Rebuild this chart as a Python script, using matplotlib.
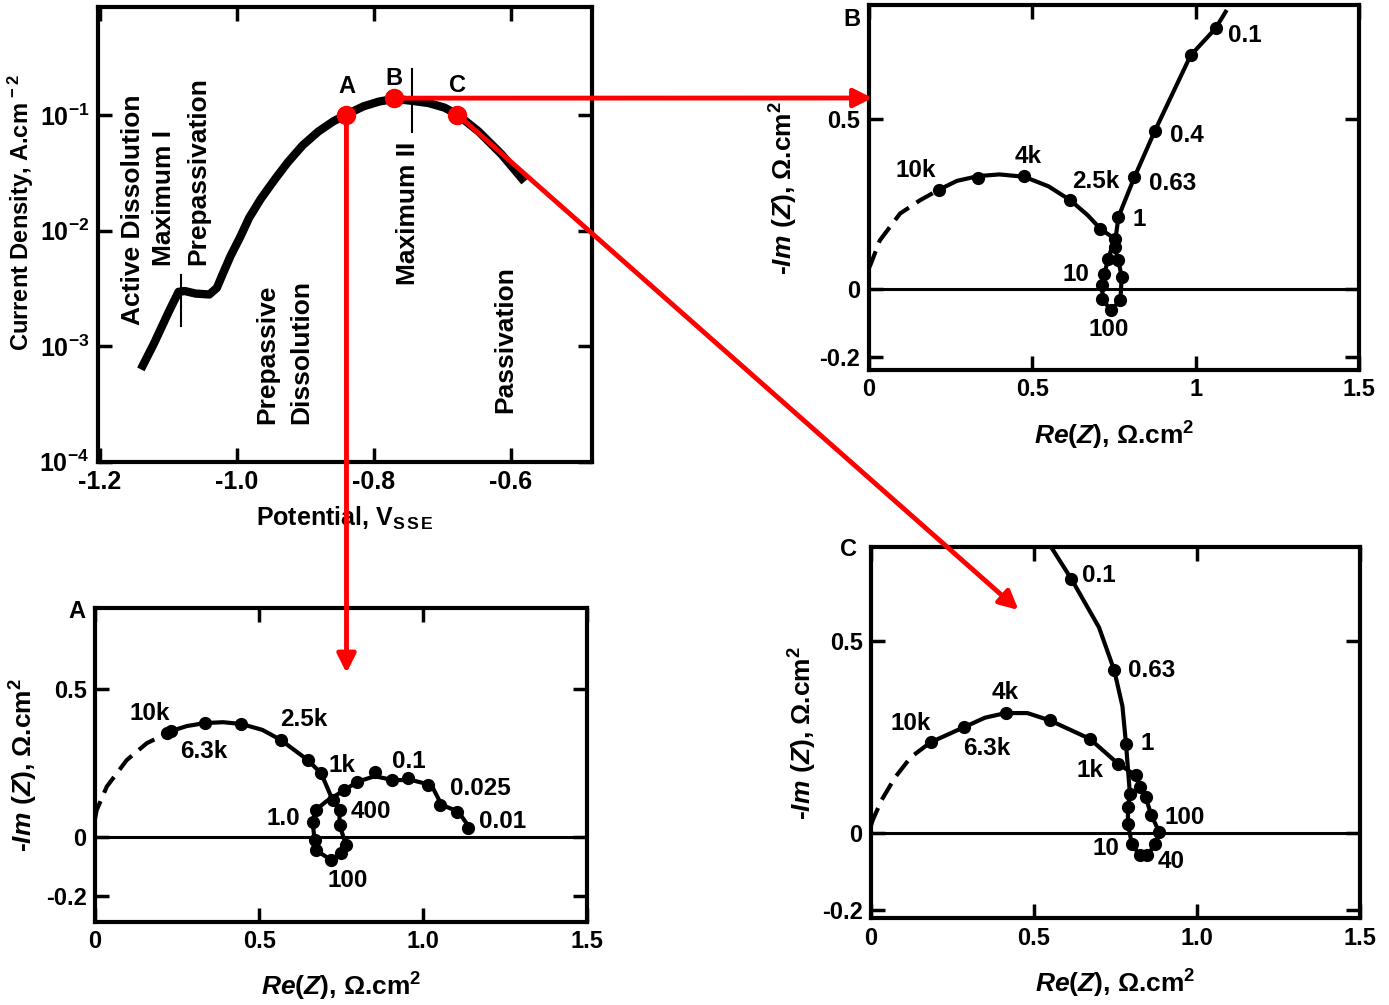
import matplotlib
matplotlib.use("Agg")
import matplotlib.pyplot as plt
from matplotlib.patches import ConnectionPatch
from matplotlib.ticker import NullLocator

W, H = 1389, 1005

# polarization curve
POTENTIAL = [-1.140, -1.121, -1.099, -1.085, -1.076, -1.060, -1.040, -1.029, -1.021, -1.009,
             -0.995, -0.982, -0.965, -0.945, -0.926, -0.904, -0.881, -0.859, -0.840, -0.815,
             -0.792, -0.770, -0.745, -0.720, -0.697, -0.678, -0.647, -0.614, -0.580]
CURRENT = [6.3e-4, 1.05e-3, 2.0e-3, 2.95e-3, 3.0e-3, 2.85e-3, 2.8e-3, 3.2e-3, 4.15e-3, 6.05e-3,
           8.8e-3, 1.29e-2, 1.88e-2, 2.75e-2, 3.87e-2, 5.46e-2, 7.2e-2, 8.83e-2, 0.101, 0.119,
           0.131, 0.138, 0.133, 0.127, 0.116, 0.101, 0.072, 0.046, 0.0265]
POINT_NAMES = ["A", "B", "C"]
POINT_POT = [-0.840, -0.770, -0.678]
POINT_CUR = [0.101, 0.140, 0.101]
MAX_I_POT = -1.081
MAX_I_CUR = [4.15e-3, 1.48e-3]
MAX_II_POT = -0.745
MAX_II_CUR = [0.248, 0.072]
POT_TICKS = [-1.2, -1.0, -0.8, -0.6]
POT_TICKLABELS = ["-1.2", "-1.0", "-0.8", "-0.6"]
CUR_TICKS = [1e-4, 1e-3, 1e-2, 1e-1]
CUR_TICKLABELS = [r"$10^{-4}$", r"$10^{-3}$", r"$10^{-2}$", r"$10^{-1}$"]
REGIONS = ["Active Dissolution", "Maximum I", "Prepassivation", "Prepassive",
           "Dissolution", "Maximum II", "Passivation"]

# impedance at point B
B_DASH_RE = [0.0, 0.007, 0.034, 0.096, 0.157, 0.215]
B_DASH_IM = [0.06, 0.075, 0.143, 0.222, 0.261, 0.292]
B_LINE_RE = [0.215, 0.27, 0.335, 0.40, 0.476, 0.55, 0.617, 0.67, 0.709, 0.752, 0.733, 0.721,
             0.715, 0.715, 0.740, 0.770, 0.774, 0.764, 0.752, 0.764, 0.813, 0.875, 0.985,
             1.061, 1.092]
B_LINE_IM = [0.292, 0.318, 0.332, 0.337, 0.330, 0.302, 0.261, 0.217, 0.177, 0.148, 0.089, 0.045,
             0.011, -0.028, -0.063, -0.033, 0.035, 0.084, 0.124, 0.212, 0.329, 0.464, 0.687,
             0.766, 0.815]
B_PT_RE = [0.215, 0.335, 0.476, 0.617, 0.709, 0.752, 0.733, 0.721, 0.715, 0.715, 0.740, 0.770,
           0.774, 0.764, 0.752, 0.764, 0.813, 0.875, 0.985, 1.061]
B_PT_IM = [0.292, 0.325, 0.332, 0.261, 0.177, 0.148, 0.089, 0.045, 0.011, -0.028, -0.063, -0.033,
           0.035, 0.084, 0.124, 0.212, 0.329, 0.464, 0.687, 0.766]
B_FREQ = ["10k", "4k", "2.5k", "0.63", "0.4", "0.1", "1", "10", "100"]

# impedance at point A
A_DASH_RE = [0.0, 0.005, 0.036, 0.097, 0.158, 0.219]
A_DASH_IM = [0.06, 0.09, 0.17, 0.26, 0.317, 0.350]
A_LINE_RE = [0.219, 0.232, 0.28, 0.334, 0.39, 0.446, 0.51, 0.566, 0.648, 0.689, 0.724, 0.745,
             0.745, 0.765, 0.750, 0.719, 0.673, 0.669, 0.663, 0.673, 0.705, 0.760, 0.799,
             0.852, 0.908, 0.964, 1.025, 1.056, 1.107, 1.143]
A_LINE_IM = [0.350, 0.358, 0.375, 0.385, 0.388, 0.382, 0.362, 0.328, 0.260, 0.215, 0.124, 0.091,
             0.040, -0.028, -0.055, -0.079, -0.045, -0.011, 0.051, 0.091, 0.120, 0.158, 0.186,
             0.205, 0.192, 0.192, 0.175, 0.108, 0.085, 0.028]
A_PT_RE = [0.219, 0.232, 0.334, 0.446, 0.566, 0.648, 0.689, 0.724, 0.745, 0.745, 0.765, 0.750,
           0.719, 0.673, 0.669, 0.663, 0.673, 0.760, 0.799, 0.852, 0.905, 0.953, 1.014, 1.050,
           1.104, 1.135]
A_PT_IM = [0.350, 0.358, 0.385, 0.382, 0.328, 0.260, 0.215, 0.124, 0.091, 0.040, -0.028, -0.055,
           -0.079, -0.045, -0.011, 0.051, 0.091, 0.158, 0.186, 0.220, 0.192, 0.198, 0.175, 0.108,
           0.085, 0.028]
A_FREQ = ["10k", "6.3k", "2.5k", "1k", "0.1", "0.025", "0.01", "400", "1.0", "100"]

# impedance at point C
C_DASH_RE = [0.0, 0.005, 0.032, 0.074, 0.122, 0.183]
C_DASH_IM = [0.02, 0.033, 0.085, 0.145, 0.197, 0.236]
C_LINE_RE = [0.183, 0.285, 0.35, 0.413, 0.48, 0.549, 0.672, 0.759, 0.813, 0.825, 0.843, 0.861,
             0.885, 0.873, 0.849, 0.825, 0.801, 0.789, 0.789, 0.795, 0.783, 0.772, 0.747,
             0.700, 0.615, 0.552]
C_LINE_IM = [0.236, 0.275, 0.300, 0.312, 0.312, 0.293, 0.245, 0.180, 0.150, 0.119, 0.094, 0.046,
             0.003, -0.028, -0.058, -0.058, -0.028, 0.024, 0.068, 0.102, 0.232, 0.330, 0.423,
             0.535, 0.661, 0.745]
C_PT_RE = [0.183, 0.285, 0.413, 0.549, 0.672, 0.759, 0.813, 0.825, 0.843, 0.861, 0.885, 0.873,
           0.849, 0.825, 0.801, 0.789, 0.789, 0.795, 0.783, 0.747, 0.615]
C_PT_IM = [0.236, 0.275, 0.312, 0.293, 0.245, 0.180, 0.150, 0.119, 0.094, 0.046, 0.003, -0.028,
           -0.058, -0.058, -0.028, 0.024, 0.068, 0.102, 0.232, 0.423, 0.661]
C_FREQ = ["0.1", "0.63", "4k", "10k", "6.3k", "1", "1k", "100", "10", "40"]

IM_TICKS = [-0.2, 0, 0.5]
IM_TICKLABELS = ["-0.2", "0", "0.5"]
RE_TICKS = [0, 0.5, 1, 1.5]

plt.rcParams["font.family"] = ["Liberation Sans", "DejaVu Sans"]
plt.rcParams["font.weight"] = "bold"
plt.rcParams["axes.labelweight"] = "bold"
plt.rcParams["mathtext.fontset"] = "custom"
plt.rcParams["mathtext.rm"] = "Liberation Sans:bold"
plt.rcParams["mathtext.bf"] = "Liberation Sans:bold"
plt.rcParams["mathtext.it"] = "Liberation Sans:italic:bold"
plt.rcParams["mathtext.default"] = "rm"
plt.rcParams["axes.unicode_minus"] = False


def px_axes(fig, left, top, right, bottom):
    return fig.add_axes([left / W, 1 - bottom / H, (right - left) / W, (bottom - top) / H])


def style_box(ax, fs):
    for s in ax.spines.values():
        s.set_linewidth(3)
    ax.tick_params(direction="in", length=10, width=2.5, top=True, right=True,
                   labelsize=fs, pad=6)


def polarization(fig):
    ax = px_axes(fig, 97.7, 7.3, 591.7, 461.7)
    ax.set_yscale("log")
    ax.plot(POTENTIAL, CURRENT, color="black", lw=6, solid_capstyle="butt",
            solid_joinstyle="round", zorder=3)
    ax.plot([MAX_I_POT, MAX_I_POT], MAX_I_CUR, color="black", lw=1.5)
    ax.plot([MAX_II_POT, MAX_II_POT], MAX_II_CUR, color="black", lw=1.5)
    ax.plot(POINT_POT, POINT_CUR, "o", color="red", ms=13, zorder=5)
    offsets = [1.75, 1.47, 1.8]
    for name, v, i, k in zip(POINT_NAMES, POINT_POT, POINT_CUR, offsets):
        ax.text(v, i * k, name, ha="center", va="center", fontsize=17)
    ax.set_xlim(-1.203, -0.482)
    ax.set_ylim(1e-4, 0.856)
    ax.set_xticks(POT_TICKS, POT_TICKLABELS)
    ax.set_yticks(CUR_TICKS, CUR_TICKLABELS)
    ax.yaxis.set_minor_locator(NullLocator())
    style_box(ax, 18)
    spots = [(0.072, 0.554), (0.134, 0.580), (0.204, 0.640), (0.343, 0.237),
             (0.413, 0.241), (0.628, 0.547), (0.826, 0.268)]
    for txt, (x, y) in zip(REGIONS, spots):
        ax.text(x, y, txt, transform=ax.transAxes, rotation=90, ha="center",
                va="center", fontsize=19)
    ax.set_xlabel(r"Potential, V$_{\mathrm{S\,S\,E}}$", fontsize=18, labelpad=8)
    ax.set_ylabel(r"Current Density, A.cm$^{\,-2}$", fontsize=17)
    ax.yaxis.set_label_coords(-0.125, 0.549)
    return ax


def nyquist(ax, dash, line, pts, freqs, spots, ylim, xlabels, ylabelpad):
    ax.axhline(0, color="black", lw=2.2)
    ax.plot(dash[0], dash[1], color="black", lw=3, dashes=(4.5, 2.2))
    ax.plot(line[0], line[1], color="black", lw=3)
    ax.plot(pts[0], pts[1], "o", color="black", ms=8.5)
    for txt, (x, y) in zip(freqs, spots):
        ax.text(x, y, txt, ha="center", va="center", fontsize=17.5)
    ax.set_xlim(0, 1.5)
    ax.set_ylim(*ylim)
    ax.set_xticks(RE_TICKS, xlabels)
    ax.set_yticks(IM_TICKS, IM_TICKLABELS)
    style_box(ax, 17)
    ax.set_xlabel(r"$\mathit{Re(Z)}$, $\Omega$.cm$^{2}$", fontsize=19, labelpad=13)
    ax.set_ylabel(r"-$\mathit{Im\ (Z)}$, $\Omega$.cm$^{2}$", fontsize=19,
                  labelpad=ylabelpad)


def main():
    fig = plt.figure(figsize=(W / 100, H / 100), dpi=100)
    axp = polarization(fig)

    axb = px_axes(fig, 868.7, 5, 1359, 370)
    nyquist(axb, (B_DASH_RE, B_DASH_IM), (B_LINE_RE, B_LINE_IM), (B_PT_RE, B_PT_IM), B_FREQ,
            [(0.145, 0.348), (0.488, 0.390), (0.694, 0.315), (0.930, 0.310), (0.973, 0.450),
             (1.150, 0.744), (0.829, 0.204), (0.635, 0.044), (0.733, -0.120)],
            (-0.238, 0.835), ["0", "0.5", "1", "1.5"], 14)

    axa = px_axes(fig, 95, 608.3, 587.3, 921.7)
    nyquist(axa, (A_DASH_RE, A_DASH_IM), (A_LINE_RE, A_LINE_IM), (A_PT_RE, A_PT_IM), A_FREQ,
            [(0.166, 0.416), (0.331, 0.288), (0.637, 0.398), (0.754, 0.240), (0.956, 0.254),
             (1.174, 0.164), (1.241, 0.051), (0.841, 0.087), (0.575, 0.061), (0.769, -0.150)],
            (-0.288, 0.774), ["0", "0.5", "1.0", "1.5"], 4)

    axc = px_axes(fig, 871, 547.3, 1359.5, 918.3)
    nyquist(axc, (C_DASH_RE, C_DASH_IM), (C_LINE_RE, C_LINE_IM), (C_PT_RE, C_PT_IM), C_FREQ,
            [(0.699, 0.669), (0.861, 0.423), (0.411, 0.366), (0.122, 0.286), (0.357, 0.219),
             (0.849, 0.232), (0.672, 0.163), (0.963, 0.040), (0.720, -0.041), (0.921, -0.075)],
            (-0.2216, 0.743), ["0", "0.5", "1.0", "1.5"], 2)

    for name, (px, py) in zip(POINT_NAMES, [(77, 611.7), (852, 20), (848.6, 550)]):
        fig.text(px / W, 1 - py / H, name, ha="center", va="center", fontsize=17)

    # red arrows from the marked potentials to their spectra
    tips = [(346.5, 673), (872.5, 98), (1018.5, 610)]
    for v, i, (tx, ty) in zip(POINT_POT, POINT_CUR, tips):
        con = ConnectionPatch(xyA=(v, i), coordsA=axp.transData,
                              xyB=(tx / W, 1 - ty / H), coordsB=fig.transFigure,
                              arrowstyle="-|>", color="red", lw=3.5, mutation_scale=28,
                              shrinkA=0, shrinkB=0)
        con.set_zorder(20)
        fig.add_artist(con)

    fig.savefig("out.png", dpi=100)


if __name__ == "__main__":
    main()
